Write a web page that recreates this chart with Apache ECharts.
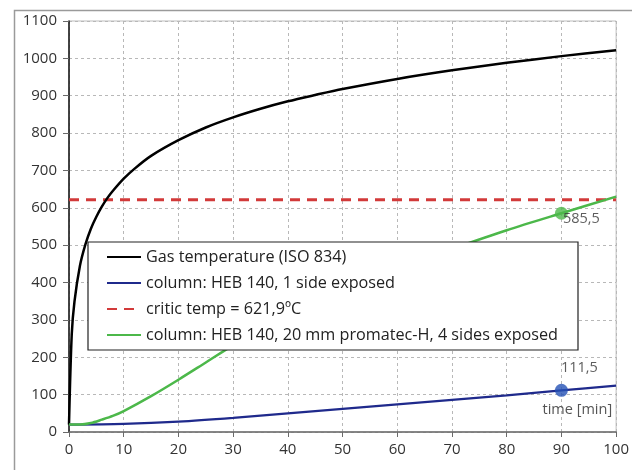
<!DOCTYPE html>
<html>
<head>
<meta charset="utf-8">
<script src="https://cdn.jsdelivr.net/npm/echarts@6/dist/echarts.min.js"></script>
<style>html,body{margin:0;padding:0;background:#fff}#chart{width:632px;height:470px}</style>
</head>
<body>
<div id="chart"></div>
<script>
// Time axis (minutes) and fire curves, temperatures in °C
const gasTime = [0, 0.5, 1, 2, 3, 4, 5, 6, 7, 8, 10, 12, 15, 20, 25, 30, 35, 40, 45, 50, 60, 70, 80, 90, 100];
const gasTemp = [20, 261, 349, 445, 502, 544, 576, 603, 626, 645, 678, 705, 739, 781, 815, 842, 865, 885, 902, 918, 945, 968, 988, 1006, 1022];

const colTime = [0, 10, 20, 30, 40, 50, 60, 70, 80, 90, 100];
const col1Temp = [20, 22, 28, 38, 50, 62, 74, 86, 98, 111.5, 124];

const promTime = [0, 2, 4, 6, 8, 10, 15, 20, 25, 30, 40, 50, 60, 70, 80, 90, 100];
const promTemp = [20, 20, 24, 33, 43, 56, 96, 140, 186, 232, 310, 378, 438, 490, 540, 585.5, 630];

const criticTemp = 621.9;
const markTime = 90;

const seriesNames = [
  'Gas temperature (ISO 834)',
  'column: HEB 140, 1 side exposed',
  'critic temp = 621,9ºC',
  'column: HEB 140, 20 mm promatec-H, 4 sides exposed'
];

const xTicks = { min: 0, max: 100, interval: 10 };
const yTicks = { min: 0, max: 1100, interval: 100 };

const pair = (xs, ys) => xs.map((x, i) => [x, ys[i]]);
const fmt = v => String(v).replace('.', ',');

const FONT = '"Open Sans", "Liberation Sans", sans-serif';

const chart = echarts.init(document.getElementById('chart'), null, { renderer: 'canvas' });
chart.setOption({
  animation: false,
  backgroundColor: '#fff',
  graphic: [{
    type: 'rect', left: 12, top: 8, z: -1,
    shape: { width: 640, height: 480 },
    style: { fill: 'none', stroke: '#9a9a9a', lineWidth: 1.5 }
  }],
  grid: { left: 69, right: 12, top: 21, bottom: 38, show: true, borderColor: '#bdbdbd', borderWidth: 1, containLabel: false },
  legend: {
    orient: 'vertical', left: 88, top: 242,
    backgroundColor: '#fff', borderColor: '#222', borderWidth: 1.2, borderRadius: 0,
    padding: [4, 20, 4, 18], itemGap: 4, itemWidth: 34, itemHeight: 22,
    itemStyle: { opacity: 0 },
    textStyle: { fontFamily: FONT, fontSize: 16.2, color: '#222', lineHeight: 22 },
    data: seriesNames
  },
  xAxis: {
    type: 'value', min: xTicks.min, max: xTicks.max, interval: xTicks.interval,
    name: 'time [min]', nameLocation: 'end', nameGap: 0,
    nameTextStyle: { fontFamily: FONT, fontSize: 14.5, color: '#555', align: 'right', verticalAlign: 'bottom', padding: [0, 4, 15, 0] },
    axisLine: { show: true, onZero: false, lineStyle: { color: '#6a6a6a', width: 1.5 } },
    axisTick: { show: true, length: 5, lineStyle: { color: '#6a6a6a' } },
    axisLabel: { margin: 10, fontFamily: FONT, fontSize: 15, color: '#333' },
    splitLine: { show: true, lineStyle: { color: '#b8b8b8', type: [3, 3], width: 1 } }
  },
  yAxis: {
    type: 'value', min: yTicks.min, max: yTicks.max, interval: yTicks.interval,
    axisLine: { show: true, lineStyle: { color: '#111', width: 1.5 } },
    axisTick: { show: true, length: 6, lineStyle: { color: '#6a6a6a' } },
    axisLabel: { margin: 12, fontFamily: FONT, fontSize: 15, color: '#333', formatter: v => String(v) },
    splitLine: { show: true, lineStyle: { color: '#b8b8b8', type: [3, 3], width: 1 } }
  },
  series: [
    {
      name: seriesNames[0], type: 'line', showSymbol: false, symbol: 'none', smooth: 0.3,
      data: pair(gasTime, gasTemp), lineStyle: { color: '#000', width: 2.5 }, itemStyle: { color: '#000' }, z: 3
    },
    {
      name: seriesNames[1], type: 'line', showSymbol: false, symbol: 'none', smooth: 0.3,
      data: pair(colTime, col1Temp), lineStyle: { color: '#1f2a8c', width: 2.2 }, itemStyle: { color: '#1f2a8c' }, z: 3
    },
    {
      name: seriesNames[2], type: 'line', showSymbol: false, symbol: 'none',
      data: [[xTicks.min, criticTemp], [xTicks.max, criticTemp]],
      lineStyle: { color: '#d23a3a', width: 3, type: [10, 7] }, itemStyle: { color: '#d23a3a' }, z: 2
    },
    {
      name: seriesNames[3], type: 'line', showSymbol: false, symbol: 'none', smooth: 0.3,
      data: pair(promTime, promTemp), lineStyle: { color: '#4cb84a', width: 2.5 }, itemStyle: { color: '#4cb84a' }, z: 3
    },
    {
      type: 'scatter', symbolSize: 13, z: 5,
      data: [[markTime, promTemp[promTime.indexOf(markTime)]]],
      itemStyle: { color: '#4cb84a' },
      label: { show: true, position: 'right', offset: [-10, 6], formatter: p => fmt(p.value[1]), fontFamily: FONT, fontSize: 14.5, color: '#333' }
    },
    {
      type: 'scatter', symbolSize: 13, z: 5,
      data: [[markTime, col1Temp[colTime.indexOf(markTime)]]],
      itemStyle: { color: '#2451b5' },
      label: { show: true, position: 'top', distance: 8, offset: [18, 0], formatter: p => fmt(p.value[1]), fontFamily: FONT, fontSize: 14.5, color: '#333' }
    }
  ]
});
</script>
</body>
</html>
